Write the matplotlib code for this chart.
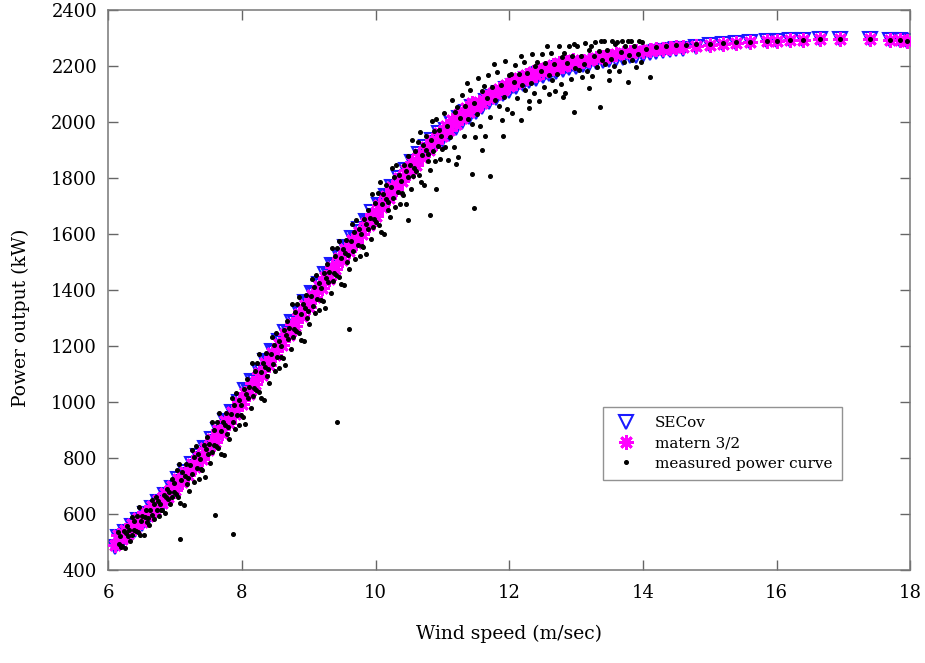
import matplotlib
matplotlib.use("Agg")
import matplotlib.pyplot as plt

# ---- model predictions: wind speed (m/s) ----
model_v = [6.1, 6.15, 6.2, 6.25, 6.3, 6.35, 6.4, 6.45, 6.5, 6.55, 6.6, 6.65, 6.7, 6.75, 6.8, 6.85, 6.9, 6.95,
           7.0, 7.05, 7.1, 7.15, 7.2, 7.25, 7.3, 7.35, 7.4, 7.45, 7.5, 7.55, 7.6, 7.65, 7.7, 7.75, 7.8, 7.85, 7.9, 7.95,
           8.0, 8.05, 8.1, 8.15, 8.2, 8.25, 8.3, 8.35, 8.4, 8.45, 8.5, 8.55, 8.6, 8.65, 8.7, 8.75, 8.8, 8.85, 8.9, 8.95,
           9.0, 9.05, 9.1, 9.15, 9.2, 9.25, 9.3, 9.35, 9.4, 9.45, 9.5, 9.55, 9.6, 9.65, 9.7, 9.75, 9.8, 9.85, 9.9, 9.95,
           10.0, 10.05, 10.1, 10.15, 10.2, 10.25, 10.3, 10.35, 10.4, 10.45, 10.5, 10.55, 10.6, 10.65, 10.7, 10.75, 10.8, 10.85, 10.9, 10.95,
           11.0, 11.05, 11.1, 11.15, 11.2, 11.25, 11.3, 11.35, 11.4, 11.45, 11.5, 11.55, 11.6, 11.65, 11.7, 11.75, 11.8, 11.85, 11.9, 11.95,
           12.0, 12.05, 12.1, 12.15, 12.2, 12.25, 12.3, 12.35, 12.4, 12.45, 12.5, 12.55, 12.6, 12.65, 12.7, 12.75, 12.8, 12.85, 12.9, 12.95,
           13.0,
           13.1, 13.2, 13.3, 13.4, 13.5, 13.6, 13.7, 13.8, 13.9, 14.0,
           14.1, 14.2, 14.3, 14.4, 14.5, 14.6, 14.8, 15.0, 15.2, 15.4, 15.6, 15.85, 16.0, 16.2, 16.4, 16.65, 16.95,
           17.4, 17.7, 17.85, 17.95]

# matern 3/2 predictions (kW)
matern_p = [490, 524, 510, 544, 530, 564, 551, 585, 572, 607, 594, 629, 616, 651, 639, 675, 663, 699,
            688, 725, 714, 751, 741, 779, 769, 807, 798, 837, 828, 867, 859, 899, 891, 931, 924, 965, 958, 999,
            993, 1034, 1028, 1069, 1063, 1104, 1098, 1139, 1133, 1174, 1168, 1209, 1203, 1244, 1238, 1279, 1273, 1314, 1307, 1348,
            1341, 1382, 1375, 1415, 1408, 1448, 1441, 1481, 1474, 1514, 1506, 1546, 1538, 1577, 1569, 1609, 1600, 1640, 1632, 1672,
            1665, 1705, 1697, 1737, 1729, 1769, 1760, 1799, 1790, 1829, 1819, 1857, 1847, 1885, 1874, 1911, 1900, 1937, 1925, 1961,
            1949, 1985, 1972, 2007, 1994, 2029, 2015, 2049, 2034, 2067, 2052, 2073, 2069, 2089, 2085, 2105, 2100, 2119, 2114, 2133,
            2127, 2145, 2139, 2157, 2150, 2167, 2160, 2177, 2169, 2186, 2178, 2194, 2186, 2202, 2193, 2209, 2200, 2215, 2206, 2221,
            2212,
            2218, 2223, 2228, 2233, 2237, 2241, 2245, 2249, 2252, 2255,
            2258, 2260, 2262, 2264, 2266, 2268, 2272, 2276, 2279, 2282, 2285, 2288, 2290, 2292, 2294, 2296, 2298,
            2297, 2294, 2292, 2289]

# SECov predictions (kW)
secov_p = [484, 518, 504, 538, 524, 558, 545, 579, 566, 601, 588, 623, 610, 645, 633, 669, 657, 693,
           688, 725, 714, 751, 741, 779, 769, 807, 798, 837, 828, 867, 859, 899, 891, 931, 924, 965, 958, 999,
           1001, 1042, 1036, 1077, 1071, 1112, 1106, 1147, 1141, 1182, 1176, 1217, 1211, 1252, 1246, 1287, 1281, 1322, 1315, 1356,
           1349, 1390, 1383, 1423, 1416, 1456, 1449, 1489, 1482, 1522, 1514, 1554, 1546, 1585, 1577, 1617, 1608, 1648, 1640, 1680,
           1665, 1705, 1697, 1737, 1729, 1769, 1760, 1799, 1790, 1829, 1819, 1857, 1847, 1885, 1874, 1911, 1900, 1937, 1925, 1961,
           1934, 1970, 1957, 1992, 1979, 2014, 2000, 2034, 2019, 2052, 2037, 2058, 2054, 2074, 2070, 2090, 2085, 2104, 2099, 2118,
           2112, 2130, 2124, 2142, 2135, 2152, 2145, 2162, 2154, 2171, 2163, 2179, 2171, 2187, 2178, 2194, 2185, 2200, 2191, 2206,
           2197,
           2203, 2208, 2213, 2218, 2222, 2226, 2230, 2234, 2237, 2240,
           2245, 2249, 2252, 2256, 2259, 2262, 2268, 2274, 2279, 2282, 2285, 2288, 2290, 2292, 2294, 2296, 2298,
           2297, 2294, 2292, 2289]

# ---- measured power curve ----
meas_v = [6.15, 6.16, 6.18, 6.19,
          6.21, 6.23, 6.25, 6.26, 6.28, 6.29,
          6.31, 6.33, 6.35, 6.36, 6.38, 6.39,
          6.41, 6.43, 6.45, 6.46, 6.48, 6.49,
          6.51, 6.53, 6.55, 6.56, 6.58, 6.59,
          6.61, 6.63, 6.65, 6.66, 6.68, 6.69,
          6.71, 6.73, 6.75, 6.76, 6.78, 6.79,
          6.81, 6.83, 6.85, 6.86, 6.88, 6.89,
          6.91, 6.93, 6.95, 6.96, 6.98, 6.99,
          7.01, 7.03, 7.05, 7.06, 7.08, 7.09,
          7.11, 7.13, 7.15, 7.16, 7.18, 7.19,
          7.21, 7.23, 7.25, 7.26, 7.28, 7.29,
          7.31, 7.33, 7.35, 7.36, 7.38, 7.39,
          7.41, 7.43, 7.45, 7.46, 7.48, 7.49,
          7.51, 7.53, 7.55, 7.56, 7.58, 7.59,
          7.61, 7.63, 7.65, 7.66, 7.68, 7.69,
          7.71, 7.73, 7.75, 7.76, 7.78, 7.79,
          7.81, 7.83, 7.85, 7.86, 7.88, 7.89,
          7.91, 7.93, 7.95, 7.96, 7.98, 7.99,
          8.01, 8.03, 8.05, 8.06, 8.08, 8.09,
          8.11, 8.13, 8.15, 8.16, 8.18, 8.19,
          8.21, 8.23, 8.25, 8.26, 8.28, 8.29,
          8.31, 8.33, 8.35, 8.36, 8.38, 8.39,
          8.41, 8.43, 8.45, 8.46, 8.48, 8.49,
          8.51, 8.53, 8.55, 8.56, 8.58, 8.59,
          8.61, 8.63, 8.65, 8.66, 8.68, 8.69,
          8.71, 8.73, 8.75, 8.76, 8.78, 8.79,
          8.81, 8.83, 8.85, 8.86, 8.88, 8.89,
          8.91, 8.93, 8.95, 8.96, 8.98, 8.99,
          9.01, 9.03, 9.05, 9.06, 9.08, 9.09,
          9.11, 9.13, 9.15, 9.16, 9.18, 9.19,
          9.21, 9.23, 9.25, 9.26, 9.28, 9.29,
          9.31, 9.33, 9.35, 9.36, 9.38, 9.39,
          9.41, 9.43, 9.45, 9.46, 9.48, 9.49,
          9.51, 9.53, 9.55, 9.56, 9.58, 9.59,
          9.61, 9.63, 9.65, 9.66, 9.68, 9.69,
          9.71, 9.73, 9.75, 9.76, 9.78, 9.79,
          9.81, 9.83, 9.85, 9.86, 9.88, 9.89,
          9.91, 9.93, 9.95, 9.96, 9.98, 9.99,
          10.01, 10.03, 10.05, 10.06, 10.08, 10.09,
          10.11, 10.13, 10.15, 10.16, 10.18, 10.19,
          10.21, 10.23, 10.25, 10.26, 10.28, 10.29,
          10.31, 10.33, 10.35, 10.36, 10.38, 10.39,
          10.41, 10.43, 10.45, 10.46, 10.48, 10.49,
          10.51, 10.53, 10.55, 10.56, 10.58, 10.59,
          10.61, 10.63, 10.65, 10.66, 10.68, 10.69,
          10.71, 10.73, 10.75, 10.76, 10.78, 10.79,
          10.81, 10.83, 10.85, 10.86, 10.88, 10.89,
          10.91, 10.93, 10.95, 10.96, 10.98, 10.99,
          11.02, 11.04, 11.07, 11.09,
          11.12, 11.14, 11.17, 11.19,
          11.22, 11.24, 11.27, 11.29,
          11.32, 11.34, 11.37, 11.39,
          11.42, 11.44, 11.47, 11.49,
          11.52, 11.54, 11.57, 11.59,
          11.62, 11.64, 11.67, 11.69,
          11.72, 11.74, 11.77, 11.79,
          11.82, 11.84, 11.87, 11.89,
          11.92, 11.94, 11.97, 11.99,
          12.02, 12.04, 12.07, 12.09,
          12.12, 12.14, 12.17, 12.19,
          12.22, 12.24, 12.27, 12.29,
          12.32, 12.34, 12.37, 12.39,
          12.42, 12.44, 12.47, 12.49,
          12.52, 12.54, 12.57, 12.59,
          12.62, 12.64, 12.67, 12.69,
          12.72, 12.74, 12.77, 12.79,
          12.82, 12.84, 12.87, 12.89,
          12.92, 12.94, 12.97, 12.99,
          13.02, 13.04, 13.07, 13.09,
          13.12, 13.14, 13.17, 13.19,
          13.22, 13.24, 13.27, 13.29,
          13.32, 13.34, 13.37, 13.39,
          13.42, 13.44, 13.47, 13.49,
          13.52, 13.54, 13.57, 13.59,
          13.62, 13.64, 13.67, 13.69,
          13.72, 13.74, 13.77, 13.79,
          13.82, 13.84, 13.87, 13.89,
          13.92, 13.94, 13.97, 13.99,
          14.05, 14.2, 14.35, 14.5, 14.65, 14.8, 15.0, 15.2, 15.4, 15.6,
          15.85, 16.0, 16.2, 16.4, 16.65, 16.95, 17.4, 17.7, 17.85, 17.95,
          9.42, 9.60, 7.86, 7.60, 7.08, 11.48, 11.72, 11.45, 10.82, 10.49,
          12.18, 12.97, 13.36, 13.77, 14.10, 12.60, 12.30, 11.90, 11.20,
          13.20, 12.80, 13.50, 11.60, 10.90]

meas_p = [535, 493, 521, 482,
          485, 540, 478, 531, 559, 522,
          544, 503, 591, 527, 544, 576,
          541, 593, 537, 624, 526, 576,
          595, 525, 589, 615, 572, 586,
          560, 616, 650, 598, 636, 584,
          660, 614, 646, 594, 637, 616,
          614, 670, 603, 662, 691, 654,
          678, 638, 726, 663, 680, 712,
          671, 756, 661, 780, 639, 721,
          752, 632, 737, 780, 706, 728,
          684, 774, 830, 743, 803, 716,
          842, 763, 813, 726, 797, 760,
          756, 847, 733, 831, 877, 815,
          851, 782, 929, 822, 848, 901,
          842, 929, 835, 960, 815, 898,
          929, 811, 918, 961, 887, 911,
          867, 959, 1016, 929, 991, 905,
          1032, 954, 1006, 919, 991, 955,
          946, 1048, 923, 1030, 1081, 1014,
          1053, 979, 1140, 1021, 1051, 1110,
          1044, 1139, 1037, 1170, 1014, 1106,
          1140, 1009, 1127, 1174, 1093, 1119,
          1070, 1171, 1234, 1137, 1205, 1110,
          1248, 1161, 1219, 1123, 1202, 1161,
          1156, 1257, 1133, 1240, 1291, 1224,
          1263, 1188, 1350, 1231, 1261, 1320,
          1254, 1349, 1246, 1375, 1223, 1315,
          1349, 1218, 1335, 1382, 1301, 1327,
          1278, 1379, 1441, 1344, 1412, 1317,
          1455, 1368, 1424, 1329, 1407, 1366,
          1361, 1462, 1336, 1444, 1494, 1427,
          1466, 1391, 1551, 1433, 1462, 1521,
          1455, 1550, 1446, 1575, 1423, 1514,
          1548, 1417, 1533, 1580, 1499, 1524,
          1475, 1575, 1636, 1540, 1607, 1511,
          1649, 1561, 1618, 1522, 1600, 1558,
          1553, 1654, 1528, 1635, 1686, 1618,
          1657, 1582, 1742, 1624, 1653, 1712,
          1644, 1747, 1633, 1784, 1607, 1706,
          1742, 1599, 1725, 1776, 1687, 1714,
          1660, 1768, 1835, 1730, 1802, 1697,
          1847, 1751, 1811, 1706, 1790, 1745,
          1739, 1847, 1709, 1825, 1879, 1804,
          1846, 1761, 1935, 1806, 1835, 1898,
          1826, 1927, 1812, 1963, 1785, 1883,
          1919, 1774, 1899, 1950, 1859, 1885,
          1830, 1937, 2002, 1897, 1968, 1862,
          2011, 1914, 1973, 1867, 1950, 1904,
          2031, 1909, 1986, 1865,
          1948, 2079, 1910, 2034,
          2054, 1876, 2016, 2097,
          1949, 2058, 2140, 2011,
          2115, 1992, 2068, 1945,
          2027, 2157, 1987, 2109,
          2128, 1949, 2087, 2167,
          2018, 2126, 2208, 2078,
          2180, 2057, 2131, 2008,
          2089, 2217, 2046, 2168,
          2173, 2033, 2141, 2204,
          2086, 2171, 2235, 2132,
          2213, 2115, 2174, 2076,
          2140, 2241, 2105, 2201,
          2215, 2074, 2181, 2243,
          2125, 2209, 2272, 2168,
          2248, 2150, 2208, 2109,
          2172, 2273, 2137, 2232,
          2245, 2103, 2210, 2271,
          2152, 2236, 2280, 2194,
          2273, 2186, 2236, 2161,
          2207, 2283, 2181, 2258,
          2272, 2164, 2234, 2287,
          2197, 2253, 2290, 2223,
          2290, 2207, 2256, 2181,
          2226, 2289, 2200, 2277,
          2287, 2182, 2251, 2289,
          2214, 2270, 2289, 2240,
          2290, 2222, 2271, 2195,
          2241, 2289, 2214, 2285,
          2262, 2268, 2272, 2275, 2276, 2278, 2280, 2283, 2285, 2287,
          2289, 2290, 2292, 2294, 2296, 2297, 2296, 2294, 2292, 2289,
          928, 1262, 528, 598, 512, 1694, 1807, 1814, 1668, 1650,
          2007, 2037, 2055, 2144, 2162, 2100, 2050, 1950, 1850,
          2120, 2090, 2150, 1900, 1760]

x_ticks = [6, 8, 10, 12, 14, 16, 18]
y_ticks = [400, 600, 800, 1000, 1200, 1400, 1600, 1800, 2000, 2200, 2400]

plt.rcParams['font.family'] = ['DejaVu Serif']

fig = plt.figure(figsize=(9.25, 6.63), dpi=100)
ax = fig.add_axes([0.117, 0.140, 0.867, 0.845])

ax.plot(model_v, secov_p, linestyle='none', marker='v', markersize=10,
        markerfacecolor='none', markeredgecolor='#1a1aff', markeredgewidth=1.5,
        label='SECov', zorder=2)
ax.plot(model_v, matern_p, linestyle='none', marker=(8, 2, 0), markersize=10.5,
        markeredgecolor='#ff00ff', markerfacecolor='#ff00ff', markeredgewidth=2.0,
        label='matern 3/2', zorder=3)
ax.plot(meas_v, meas_p, linestyle='none', marker='o', markersize=2.6,
        color='black', label='measured power curve', zorder=4)

ax.set_xlim(6, 18)
ax.set_ylim(400, 2400)
ax.set_xticks(x_ticks)
ax.set_yticks(y_ticks)
ax.tick_params(direction='in', length=7, width=1, color='#666666',
               top=True, right=True, labelsize=13)
ax.tick_params(axis='x', pad=10)
ax.tick_params(axis='y', pad=8)
for s in ax.spines.values():
    s.set_color('#777777')
    s.set_linewidth(1.1)

ax.set_xlabel('Wind speed (m/sec)', fontsize=13.5)
ax.set_ylabel('Power output (kW)', fontsize=13.5)
ax.xaxis.set_label_coords(0.5, -0.098)
ax.yaxis.set_label_coords(-0.097, 0.45)

leg = ax.legend(loc='upper left', bbox_to_anchor=(0.617, 0.291), fontsize=11,
                frameon=True, fancybox=False, edgecolor='#777777', borderaxespad=0,
                handlelength=1.8, handletextpad=1.0, borderpad=0.6, labelspacing=0.4)
leg.get_frame().set_linewidth(1.0)

fig.savefig('out.png', dpi=100)
